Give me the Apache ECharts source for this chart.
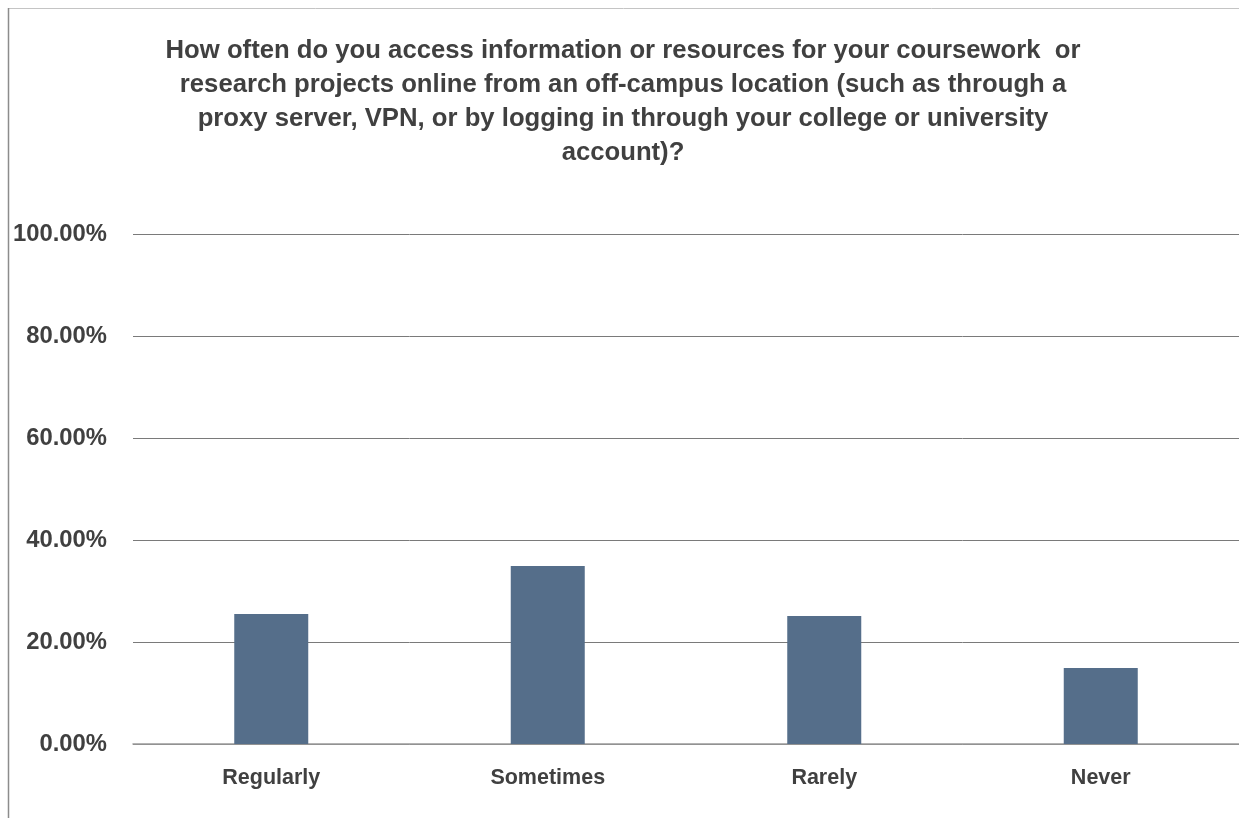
<!DOCTYPE html>
<html>
<head>
<meta charset="utf-8">
<script src="https://cdn.jsdelivr.net/npm/echarts@6/dist/echarts.min.js"></script>
<style>
  html, body { margin: 0; padding: 0; background: #ffffff; }
  #chart { width: 1239px; height: 822px; }
</style>
</head>
<body>
<div id="chart"></div>
<script>
// Survey question and answer shares (percent of respondents)
const titleText = 'How often do you access information or resources for your coursework  or\nresearch projects online from an off-campus location (such as through a\nproxy server, VPN, or by logging in through your college or university\naccount)?';
const categories = ['Regularly', 'Sometimes', 'Rarely', 'Never'];
const shares = [25.5, 34.9, 25.1, 14.9];
const yTicks = [0, 20, 40, 60, 80, 100];

const textColor = '#404040';
const fontFamily = '"Liberation Sans", Arial, sans-serif';

const chart = echarts.init(document.getElementById('chart'), null, { renderer: 'canvas' });

chart.setOption({
  backgroundColor: '#ffffff',
  animation: false,
  title: {
    text: titleText,
    left: 618,
    top: 29,
    textAlign: 'center',
    textStyle: {
      fontFamily: fontFamily,
      fontWeight: 'bold',
      fontSize: 25.7,
      lineHeight: 34,
      color: textColor
    }
  },
  graphic: [
    { type: 'line', shape: { x1: 8, y1: 8.5, x2: 1239, y2: 8.5 }, style: { stroke: '#c4c4c4', lineWidth: 1 } },
    { type: 'line', shape: { x1: 8.5, y1: 8, x2: 8.5, y2: 818 }, style: { stroke: '#8c8c8c', lineWidth: 1.5 } }
  ],
  grid: { left: 133, right: 0, top: 234, bottom: 78, containLabel: false },
  xAxis: {
    type: 'category',
    data: categories,
    axisTick: { show: false },
    axisLine: { show: true, lineStyle: { color: '#9a9a9a', width: 1.5 } },
    axisLabel: {
      margin: 23,
      fontFamily: fontFamily,
      fontWeight: 'bold',
      fontSize: 21.5,
      color: textColor
    }
  },
  yAxis: {
    type: 'value',
    min: yTicks[0],
    max: yTicks[yTicks.length - 1],
    interval: 20,
    axisLine: { show: false },
    axisTick: { show: false },
    splitLine: { lineStyle: { color: '#7a7a7a', width: 1 } },
    axisLabel: {
      margin: 26,
      fontFamily: fontFamily,
      fontWeight: 'bold',
      fontSize: 23.8,
      color: textColor,
      formatter: v => v.toFixed(2) + '%'
    }
  },
  series: [{
    type: 'bar',
    data: shares,
    barWidth: 74,
    itemStyle: { color: '#556e8a' }
  }]
});
</script>
</body>
</html>
